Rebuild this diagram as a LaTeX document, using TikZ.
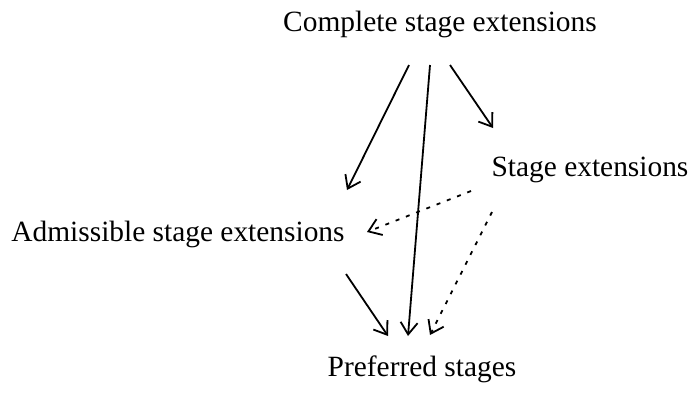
\documentclass[tikz,border=0pt]{standalone}
\usepackage{fontspec}
\setmainfont{Liberation Serif}
\usetikzlibrary{arrows.meta, calc}

\begin{document}
\begin{tikzpicture}[
    x=1pt, y=-1pt,
    label/.style = {inner sep=0pt, anchor=base, font=\fontsize{29.4}{34}\selectfont},
    arrow/.style = {line width=1.8pt, -{Straight Barb[length=12pt, width=17pt, line width=1.8pt]}},
    weak/.style = {arrow, dash pattern=on 4pt off 7pt}
  ]
  \useasboundingbox (0,0) rectangle (691,392);

  % Stage notions
  \node[label] (cse) at (440,31) {Complete stage extensions};
  \node[label] (se) at (590,176) {Stage extensions};
  \node[label] (ase) at (178,241) {Admissible stage extensions};
  \node[label] (pse) at (422,376) {Preferred stages};

  % Inclusions from complete stage extensions
  \draw[arrow] ($(cse.base)+(-31,34)$) -- ($(ase.base)+(169,-51)$);
  \draw[arrow] ($(cse.base)+(-10,34)$) -- ($(pse.base)+(-14,-40)$);
  \draw[arrow] ($(cse.base)+(10,34)$) -- ($(se.base)+(-97,-48)$);

  % Dotted ones from stage extensions
  \draw[weak] ($(se.base)+(-119,15)$) -- ($(ase.base)+(189,-9)$);
  \draw[weak] ($(se.base)+(-98,36)$) -- ($(pse.base)+(8,-41)$);

  % Admissible to preferred
  \draw[arrow] ($(ase.base)+(168,33)$) -- ($(pse.base)+(-34,-40)$);

\end{tikzpicture}
\end{document}
